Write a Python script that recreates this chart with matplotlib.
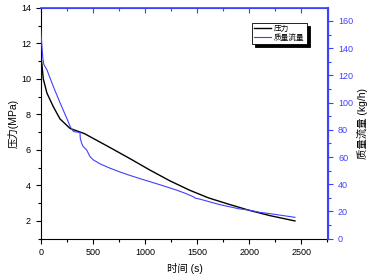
import numpy as np
import matplotlib.pyplot as plt
from matplotlib.ticker import MultipleLocator

plt.rcParams['font.family'] = ['Liberation Sans', 'Noto Sans CJK SC', 'DejaVu Sans']

# 压力 (MPa) vs time
t_p = [0, 10, 25, 60, 120, 185, 230, 282, 345, 420, 520, 670, 860,
       1050, 1240, 1430, 1610, 1800, 2000, 2200, 2440]
p = [11.4, 10.9, 10.0, 9.2, 8.45, 7.75, 7.5, 7.21, 7.08, 6.92, 6.6, 6.12, 5.5,
     4.86, 4.26, 3.73, 3.3, 2.95, 2.6, 2.3, 2.0]

# 质量流量 (kg/h) vs time
t_q = [0, 20, 30, 60, 120, 185, 250, 285, 315, 377, 380, 393, 409, 441, 473,
       505, 569, 665, 761, 860, 1000, 1150, 1300, 1385, 1465, 1480, 1530,
       1720, 1900, 2000, 2100, 2200, 2440]
q = [154, 133, 128, 124, 112, 100, 88.5, 82, 78.7, 78.0, 73.5, 70.1, 67.6, 65.2, 60.3,
     57.9, 55.0, 51.8, 49.0, 46.4, 43.0, 39.5, 35.8, 33.4, 30.8, 29.9, 29.0,
     25.0, 22.0, 21.0, 19.4, 18.4, 15.7]

blue = '#4040ff'

fig = plt.figure(figsize=(3.7, 2.78), dpi=100)
ax1 = fig.add_axes([0.110, 0.1414, 0.7773, 0.8299])
l1, = ax1.plot(t_p, p, color='black', lw=1.0, label='压力')
ax1.set_xlim(0, 2760)
ax1.set_ylim(1, 14)
ax1.xaxis.set_major_locator(MultipleLocator(500))
ax1.xaxis.set_minor_locator(MultipleLocator(250))
ax1.yaxis.set_major_locator(MultipleLocator(2))
ax1.yaxis.set_minor_locator(MultipleLocator(1))
ax1.tick_params(which='both', direction='out', labelsize=6.5, width=0.8)
ax1.tick_params(which='major', length=3.5)
ax1.tick_params(which='minor', length=2)
ax1.spines['top'].set_visible(False)
ax1.set_xlabel('时间 (s)', fontsize=7.5, labelpad=4)
ax1.set_ylabel('压力(MPa)', fontsize=7.5, labelpad=2)

ax2 = ax1.twinx()
l2, = ax2.plot(t_q, q, color=blue, lw=0.8, label='质量流量')
ax2.set_ylim(0, 169.5)
ax2.yaxis.set_major_locator(MultipleLocator(20))
ax2.yaxis.set_minor_locator(MultipleLocator(10))
ax2.tick_params(which='both', direction='out', colors=blue, labelsize=6.5, width=0.8)
ax2.tick_params(which='major', length=3.5)
ax2.tick_params(which='minor', length=2)
ax2.spines['right'].set_color(blue)
ax2.spines['right'].set_linewidth(1.5)
ax2.spines['top'].set_color(blue)
ax2.spines['top'].set_linewidth(1.2)
ax2.spines['left'].set_visible(False)
ax2.spines['bottom'].set_visible(False)
ax2.set_ylabel('质量流量 (kg/h)', fontsize=7.5, labelpad=3)

top = ax1.secondary_xaxis('top')
top.xaxis.set_major_locator(MultipleLocator(500))
top.xaxis.set_minor_locator(MultipleLocator(250))
top.tick_params(which='both', direction='in', colors=blue, labeltop=False, width=0.8)
top.tick_params(which='major', length=3.5)
top.tick_params(which='minor', length=2)
top.spines['top'].set_color(blue)

leg = ax2.legend([l1, l2], ['压力', '质量流量'], loc='upper left',
                 bbox_to_anchor=(0.735, 0.935), fontsize=5.5, frameon=True,
                 fancybox=False, shadow={'color': 'black', 'alpha': 1},
                 edgecolor='black', handlelength=2.2, borderpad=0.3,
                 labelspacing=0.2, handletextpad=0.4, borderaxespad=0)
leg.get_frame().set_linewidth(0.6)

plt.savefig('out.png', dpi=100)
